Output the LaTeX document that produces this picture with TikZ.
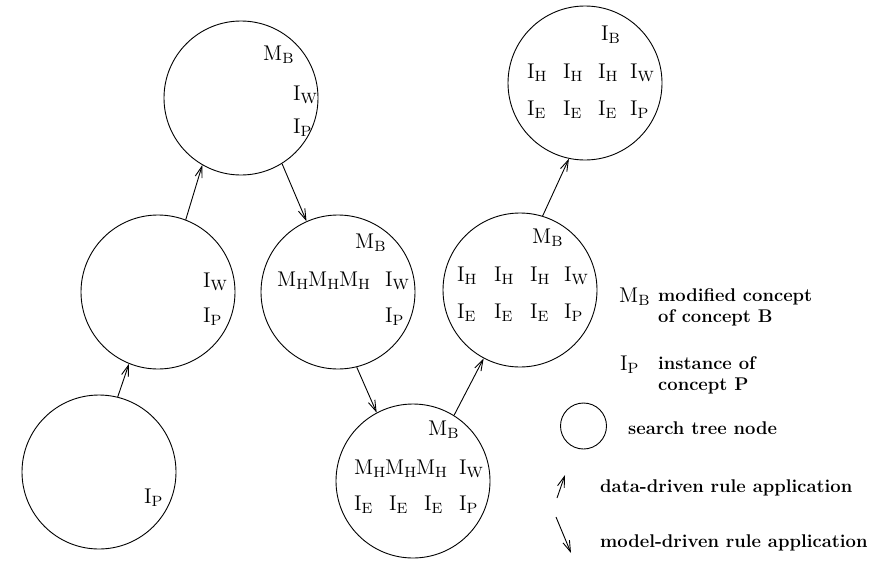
\documentclass[tikz,border=0pt]{standalone}
\usepackage{fontspec}
\setmainfont{lmroman12}[Extension=.otf, UprightFont=*-regular, BoldFont=*-bold]
\newfontfamily\subfont{lmroman8-regular.otf}
\usetikzlibrary{arrows.meta}
% concept symbol with an upright subscript letter
\newcommand\csub[2]{#1\raisebox{-3.2pt}{\subfont\fontsize{14.9}{16}\selectfont #2}}
\begin{document}
\begin{tikzpicture}[x=1pt,y=-1pt,
  stnode/.style={draw, circle, minimum size=154pt, inner sep=0pt, line width=0.9pt},
  lbl/.style={anchor=base west, inner sep=0pt, font=\fontsize{21.3}{26}\selectfont},
  legtext/.style={anchor=base west, inner sep=0pt, font=\fontsize{18.4}{21}\selectfont\bfseries},
  rulearrow/.style={line width=0.9pt, -{Straight Barb[length=11pt,width=7pt,line width=0.9pt]}}
]
\useasboundingbox (0,0) rectangle (888,565);

% search tree nodes
\node[stnode] (c1) at (241,98) {};
\node[stnode] (c2) at (158,292) {};
\node[stnode] (c3) at (99,472) {};
\node[stnode] (c4) at (338,292) {};
\node[stnode] (c5) at (413,481) {};
\node[stnode] (c6) at (520,290) {};
\node[stnode] (c7) at (585,83) {};

% contents of node c1
\node[lbl] (c1mb) at (263,60) {\csub{M}{B}};
\node[lbl] (c1iw) at (293,100) {\csub{I}{W}};
\node[lbl] (c1ip) at (293,133) {\csub{I}{P}};

% contents of node c2
\node[lbl] (c2iw) at (203,287) {\csub{I}{W}};
\node[lbl] (c2ip) at (203,322) {\csub{I}{P}};

% contents of node c3
\node[lbl] (c3ip) at (144,503) {\csub{I}{P}};

% contents of node c4
\node[lbl] (c4mb) at (355,248) {\csub{M}{B}};
\node[lbl] (c4mh) at (277,286) {\csub{M}{H}\csub{M}{H}\csub{M}{H}};
\node[lbl] (c4iw) at (385,286) {\csub{I}{W}};
\node[lbl] (c4ip) at (385,322) {\csub{I}{P}};

% contents of node c5
\node[lbl] (c5mb) at (428,435) {\csub{M}{B}};
\node[lbl] (c5mh) at (354,474) {\csub{M}{H}\csub{M}{H}\csub{M}{H}};
\node[lbl] (c5iw) at (459,474) {\csub{I}{W}};
\node[lbl] (c5ea) at (354,510) {\csub{I}{E}};
\node[lbl] (c5eb) at (389,510) {\csub{I}{E}};
\node[lbl] (c5ec) at (424,510) {\csub{I}{E}};
\node[lbl] (c5ip) at (459,510) {\csub{I}{P}};

% contents of node c6
\node[lbl] (c6mb) at (532,243) {\csub{M}{B}};
\node[lbl] (c6ha) at (457,281) {\csub{I}{H}};
\node[lbl] (c6hb) at (494,281) {\csub{I}{H}};
\node[lbl] (c6hc) at (530,281) {\csub{I}{H}};
\node[lbl] (c6iw) at (564,281) {\csub{I}{W}};
\node[lbl] (c6ea) at (457,318) {\csub{I}{E}};
\node[lbl] (c6eb) at (494,318) {\csub{I}{E}};
\node[lbl] (c6ec) at (530,318) {\csub{I}{E}};
\node[lbl] (c6ip) at (564,318) {\csub{I}{P}};

% contents of node c7
\node[lbl] (c7ib) at (601,40) {\csub{I}{B}};
\node[lbl] (c7ha) at (527,78) {\csub{I}{H}};
\node[lbl] (c7hb) at (563,78) {\csub{I}{H}};
\node[lbl] (c7hc) at (598,78) {\csub{I}{H}};
\node[lbl] (c7iw) at (630,78) {\csub{I}{W}};
\node[lbl] (c7ea) at (527,115) {\csub{I}{E}};
\node[lbl] (c7eb) at (563,115) {\csub{I}{E}};
\node[lbl] (c7ec) at (598,115) {\csub{I}{E}};
\node[lbl] (c7ip) at (630,115) {\csub{I}{P}};

% rule applications
\draw[rulearrow] (c3.76) -- (c2.-112);
\draw[rulearrow] (c2.69) -- (c1.-120);
\draw[rulearrow] (c1.-58) -- (c4.114);
\draw[rulearrow] (c4.-76) -- (c5.118);
\draw[rulearrow] (c5.58) -- (c6.-118);
\draw[rulearrow] (c6.73) -- (c7.-102);

% legend
\node[lbl] (lmb) at (619,302) {\csub{M}{B}};
\node[legtext] (lmb1) at (658,301) {modified concept};
\node[legtext] (lmb2) at (658,322) {of concept B};
\node[lbl] (lip) at (620,370) {\csub{I}{P}};
\node[legtext] (lip1) at (658,369) {instance of};
\node[legtext] (lip2) at (658,390) {concept P};
\node[draw, circle, minimum size=46pt, inner sep=0pt, line width=0.9pt] (lnode) at (583.5,426) {};
\node[legtext] (lnodet) at (628,434) {search tree node};
\coordinate (lup1) at (557,498);
\coordinate (lup2) at (565,475);
\draw[rulearrow] (lup1) -- (lup2);
\node[legtext] (lupt) at (600,492) {data-driven rule application};
\coordinate (ldn1) at (556,517);
\coordinate (ldn2) at (571,553);
\draw[rulearrow] (ldn1) -- (ldn2);
\node[legtext] (ldnt) at (600,547) {model-driven rule application};
\end{tikzpicture}
\end{document}
